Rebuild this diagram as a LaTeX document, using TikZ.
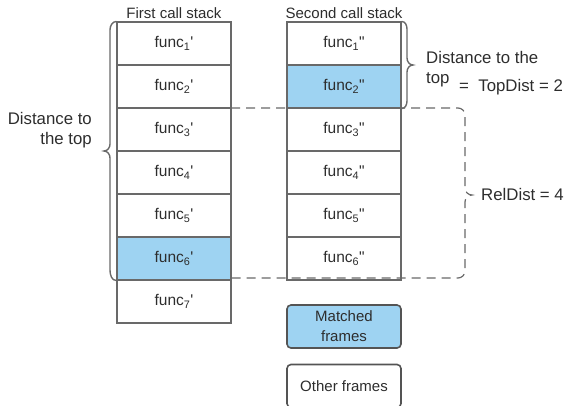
\documentclass[tikz,border=0pt]{standalone}
\usepackage{fontspec}
\setmainfont{Liberation Sans}
\definecolor{matchblue}{RGB}{158,211,242}
\definecolor{edge}{RGB}{105,105,105}
\definecolor{ink}{RGB}{45,45,45}
\newcommand{\fn}[2]{func\textsubscript{#1}#2}
\newcommand{\pa}{\textquotesingle}
\newcommand{\pb}{\textquotedbl}
\begin{document}
\begin{tikzpicture}[x=1pt,y=-1pt,
  cell/.style={draw=edge,line width=1.1pt,minimum width=114pt,minimum height=43pt,
    inner sep=0pt,text=ink,font=\fontsize{15.5}{18}\selectfont},
  hit/.style={cell,fill=matchblue},
  legendbox/.style={draw=edge!80!black,line width=1.6pt,rounded corners=4pt,
    minimum width=114pt,minimum height=43pt,inner sep=0pt,align=center,
    text=ink,font=\fontsize{15}{20}\selectfont},
  title/.style={text=ink,font=\fontsize{15}{18}\selectfont,anchor=base,inner sep=0pt},
  label/.style={text=ink,font=\fontsize{16.8}{20}\selectfont,inner sep=0pt},
  brace/.style={draw=edge,line width=1.4pt},
  gap/.style={draw=edge,line width=1.2pt,dash pattern=on 9pt off 6pt}]
\useasboundingbox (0,0) rectangle (570,405);

% relative-distance bracket (drawn first so the stack boxes sit on top)
\coordinate (rtop) at (231,108);
\coordinate (rbot) at (231,278);
\draw[gap] (rtop) -- (458,108) to[out=0,in=90] (465,115) -- (465,188)
  to[out=-90,in=180] (472,195) to[out=180,in=90] (465,202) -- (465,271)
  to[out=-90,in=0] (458,278) -- (rbot);

% first call stack
\node[title] (t1) at (174,18) {First call stack};
\node[cell] (a1) at (174,43.5)  {\fn{1}{\pa}};
\node[cell] (a2) at (174,86.5)  {\fn{2}{\pa}};
\node[cell] (a3) at (174,129.5) {\fn{3}{\pa}};
\node[cell] (a4) at (174,172.5) {\fn{4}{\pa}};
\node[cell] (a5) at (174,215.5) {\fn{5}{\pa}};
\node[hit]  (a6) at (174,258.5) {\fn{6}{\pa}};
\node[cell] (a7) at (174,301.5) {\fn{7}{\pa}};

% second call stack
\node[title] (t2) at (344,18) {Second call stack};
\node[cell] (b1) at (344,43.5)  {\fn{1}{\pb}};
\node[hit]  (b2) at (344,86.5)  {\fn{2}{\pb}};
\node[cell] (b3) at (344,129.5) {\fn{3}{\pb}};
\node[cell] (b4) at (344,172.5) {\fn{4}{\pb}};
\node[cell] (b5) at (344,215.5) {\fn{5}{\pb}};
\node[cell] (b6) at (344,258.5) {\fn{6}{\pb}};

% brace along the first stack
\draw[brace] (a1.north west) to[out=180,in=90] (110,30) -- (110,144)
  to[out=-90,in=0] (104,151) to[out=0,in=90] (110,158) -- (110,270)
  to[out=-90,in=180] (a6.south west);
\node[label,align=right,anchor=base east] (ld) at (92,144)
  {Distance to\\the top};

% brace along the top of the second stack
\draw[brace] (b1.north east) to[out=0,in=90] (407,29) -- (407,58)
  to[out=-90,in=180] (413,65) to[out=180,in=90] (407,72) -- (407,101)
  to[out=-90,in=0] (b2.south east);
\node[label,anchor=base west] (rd1) at (426,63) {Distance to the};
\node[label,anchor=base west] (rd2) at (426,83) {top};
\node[label,anchor=base west] (rd3) at (459,91) {=\ \ TopDist = 2};

\node[label,anchor=base west] (rel) at (481,200) {RelDist = 4};

% legend
\node[legendbox,fill=matchblue] (lm) at (344,326.5) {Matched\\frames};
\node[legendbox] (lo) at (344,386) {Other frames};
\end{tikzpicture}
\end{document}
